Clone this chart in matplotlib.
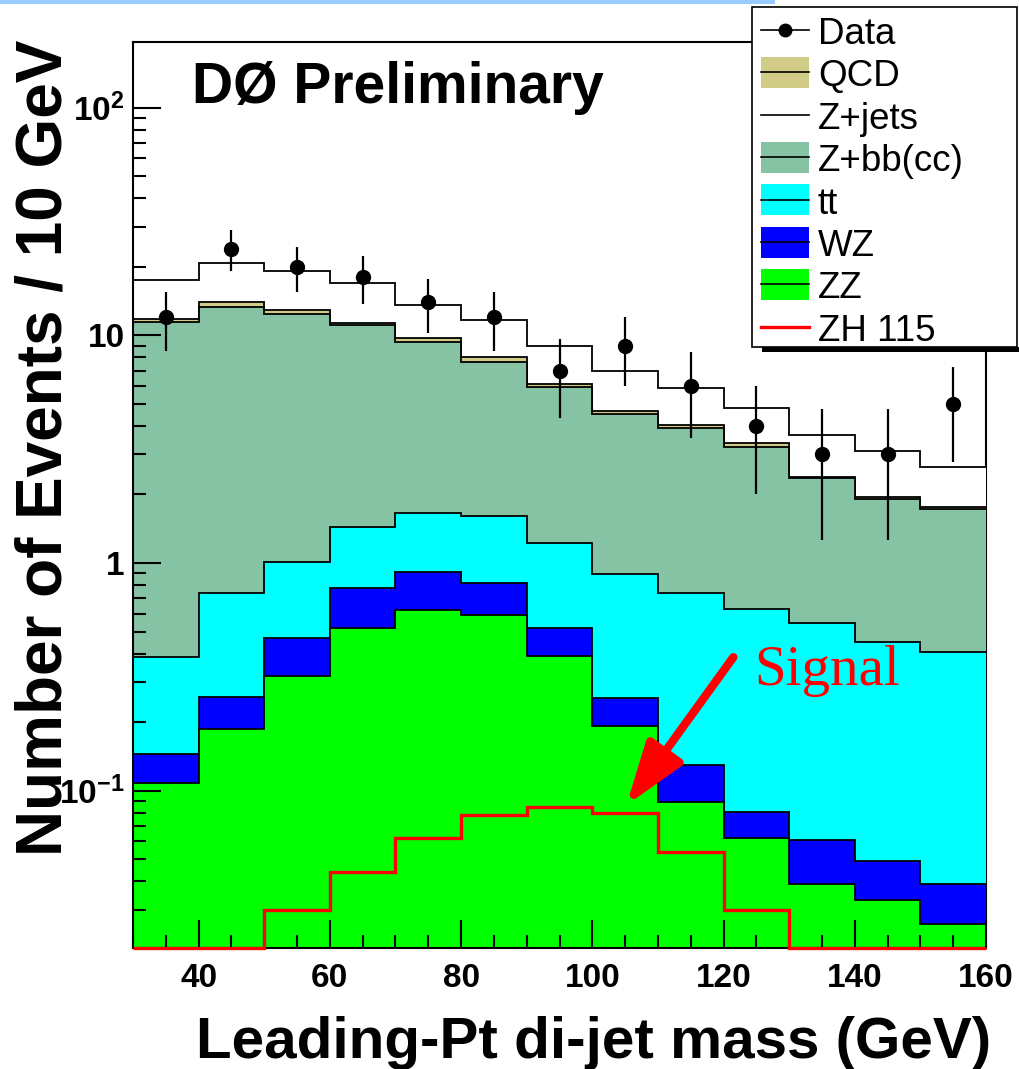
import numpy as np
import matplotlib
matplotlib.use('Agg')
import matplotlib.pyplot as plt
from matplotlib.patches import Rectangle
from matplotlib.lines import Line2D
from matplotlib.ticker import MultipleLocator, LogLocator, FuncFormatter, NullFormatter

# di-jet mass bins (GeV) and stacked background contributions per bin
bin_edges = [30, 40, 50, 60, 70, 80, 90, 100, 110, 120, 130, 140, 150, 160]
zz    = [0.108, 0.187, 0.319, 0.519, 0.622, 0.591, 0.389, 0.192, 0.089, 0.062, 0.039, 0.033, 0.026]
wz    = [0.037, 0.071, 0.150, 0.258, 0.291, 0.226, 0.130, 0.063, 0.041, 0.019, 0.022, 0.016, 0.013]
ttbar = [0.242, 0.480, 0.541, 0.663, 0.747, 0.793, 0.701, 0.640, 0.608, 0.547, 0.484, 0.401, 0.368]
zbb   = [11.0, 12.6, 11.4, 9.66, 7.69, 6.03, 4.71, 3.62, 3.18, 2.60, 1.82, 1.47, 1.32]
qcd   = [0.40, 0.60, 0.50, 0.20, 0.38, 0.39, 0.18, 0.14, 0.12, 0.14, 0.03, 0.03, 0.03]
zjets = [5.7, 6.9, 6.3, 5.7, 3.87, 3.67, 2.89, 2.32, 1.83, 1.43, 1.26, 1.15, 0.88]
data  = [12, 24, 20, 18, 14, 12, 7, 9, 6, 4, 3, 3, 5]
zh115 = [0, 0, 0.030, 0.044, 0.062, 0.078, 0.085, 0.080, 0.054, 0.030, 0, 0, 0]

legend_labels = ['Data', 'QCD', 'Z+jets', 'Z+bb(cc)', 'tt', 'WZ', 'ZZ', 'ZH 115']

c_qcd = '#d0cc88'
c_zbb = '#86c2a4'
c_tt = '#00ffff'
c_wz = '#0000ff'
c_zz = '#00ff00'

plt.rcParams['font.family'] = ['Liberation Sans', 'DejaVu Sans']
plt.rcParams['font.weight'] = 'bold'
plt.rcParams['mathtext.fontset'] = 'custom'
plt.rcParams['mathtext.rm'] = 'Liberation Sans:bold'
plt.rcParams['mathtext.bf'] = 'Liberation Sans:bold'
plt.rcParams['mathtext.it'] = 'Liberation Sans:bold'

W, H = 1020, 1069
fig = plt.figure(figsize=(W / 100, H / 100), dpi=100)
ax = fig.add_axes([133 / W, 1 - 948 / H, (986 - 133) / W, (948 - 42) / H])
ax.set_yscale('log')
ymin, ymax = 0.0204, 194
ax.set_xlim(30, 160)
ax.set_ylim(ymin, ymax)

edges = np.array(bin_edges, dtype=float)
centers = 0.5 * (edges[:-1] + edges[1:])

# cumulative stack, bottom to top
layers = [zz, wz, ttbar, zbb, qcd, zjets]
colors = [c_zz, c_wz, c_tt, c_zbb, c_qcd, 'white']
tops = np.cumsum(np.array(layers, dtype=float), axis=0)

# draw largest first so lower layers paint over it
z = 1.0
for top, col in zip(tops[::-1], colors[::-1]):
    ax.stairs(top, edges, baseline=1e-4, fill=True, color=col, lw=0, zorder=z)
    ax.stairs(top, edges, baseline=None, color='black', lw=1.3, zorder=z + 0.05)
    z += 0.2

# signal, empty bins sit on the bottom edge
zh = np.array(zh115, dtype=float)
ax.stairs(np.where(zh > 0, zh, ymin), edges, baseline=None, color='red', lw=2.4,
          zorder=4.5, clip_on=False)

# data with Poisson errors
d = np.array(data, dtype=float)
ax.errorbar(centers, d, yerr=np.sqrt(d), fmt='o', color='black', ms=10,
            elinewidth=1.6, capsize=0, zorder=5)

ax.set_axisbelow(False)
for s in ['left', 'top', 'bottom']:
    ax.spines[s].set_linewidth(1.5)
    ax.spines[s].set_zorder(4)
ax.spines['right'].set_linewidth(1.5)
ax.spines['right'].set_zorder(0.5)

ax.xaxis.set_major_locator(MultipleLocator(20))
ax.xaxis.set_minor_locator(MultipleLocator(5))
ax.yaxis.set_major_locator(LogLocator(base=10))
ax.yaxis.set_minor_locator(LogLocator(base=10, subs=np.arange(2, 10)))
ax.yaxis.set_minor_formatter(NullFormatter())

def ylab(v, pos):
    e = int(round(np.log10(v)))
    if e == 0:
        return '1'
    if e == 1:
        return '10'
    return r'$10^{%d}$' % e

ax.yaxis.set_major_formatter(FuncFormatter(ylab))
ax.tick_params(which='major', direction='in', length=20, width=1.5, labelsize=24,
               top=False, right=False)
ax.tick_params(which='minor', direction='in', length=9.5, width=1.5, top=False, right=False)
ax.tick_params(axis='x', pad=11)
ax.tick_params(axis='y', pad=6)

# signal marker
ax.annotate('', xy=(105.2, 0.0865), xytext=(121.5, 0.386),
            arrowprops=dict(arrowstyle='-|>,head_length=1.9,head_width=0.65',
                            color='red', lw=6, mutation_scale=20, shrinkA=0, shrinkB=0),
            zorder=6)
ax.text(124.7, 0.291, 'Signal', color='red', fontsize=41, family='Liberation Serif',
        fontweight='normal', ha='left', va='baseline', zorder=6)

# overlay in pixel coordinates for titles and legend
ov = fig.add_axes([0, 0, 1, 1], zorder=10)
ov.set_xlim(0, W)
ov.set_ylim(H, 0)
ov.axis('off')

ov.add_patch(Rectangle((0, 0), 775, 4, facecolor='#99ccff', edgecolor='none'))

ov.text(192, 103, 'DØ Preliminary', fontsize=41, fontweight='bold', ha='left', va='baseline')
ov.text(991, 1058, 'Leading-Pt di-jet mass (GeV)', fontsize=42, ha='right', va='baseline')
ov.text(45, 448, 'Number of Events / 10 GeV', fontsize=46, fontweight='bold',
        rotation=90, ha='center', va='center')

# legend box with shadow
ov.add_patch(Rectangle((762, 347), 258, 5, facecolor='black', edgecolor='none'))
ov.add_patch(Rectangle((752, 7), 265, 340, facecolor='white', edgecolor='black', lw=1.2))

rows = [30, 72.4, 114.8, 157.2, 199.6, 242, 284.4, 326.8]
fills = [None, c_qcd, None, c_zbb, c_tt, c_wz, c_zz, None]
for lab, yc, fc in zip(legend_labels, rows, fills):
    if fc is not None:
        ov.add_patch(Rectangle((761, yc - 15.5), 48, 31, facecolor=fc, edgecolor='none'))
    lc = 'red' if lab == 'ZH 115' else 'black'
    lw = 2.4 if lab == 'ZH 115' else 1.2
    ov.add_line(Line2D([761, 809], [yc, yc], color=lc, lw=lw))
    if lab == 'Data':
        ov.add_line(Line2D([785], [yc], marker='o', ms=9, color='black'))
    ov.text(818, yc + 14, lab, fontsize=26.5, fontweight='normal', ha='left', va='baseline')

fig.savefig('out.png', dpi=100)
